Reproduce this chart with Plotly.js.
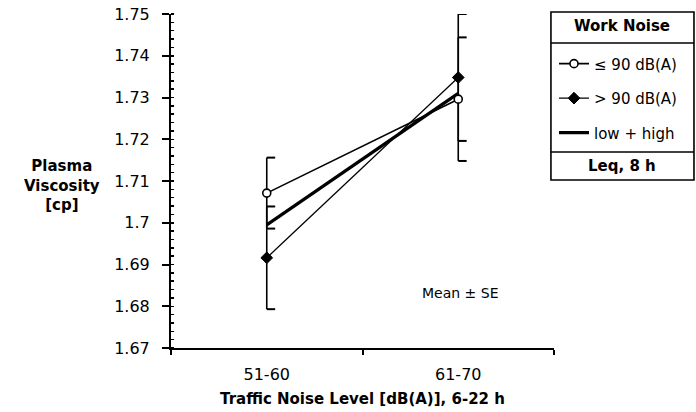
<!DOCTYPE html>
<html>
<head>
<meta charset="utf-8">
<script src="https://cdn.plot.ly/plotly-3.0.1.min.js"></script>
<style>html,body{margin:0;padding:0;background:#fff;}#chart{width:696px;height:412px;}</style>
</head>
<body>
<div id="chart"></div>
<script>
// ---- data ----
var categories = ["51-60", "61-70"];
var lowMean  = [1.7071, 1.7296];   // work noise <= 90 dB(A)
var lowSE    = [0.0085, 0.0148];
var highMean = [1.6916, 1.7348];   // work noise > 90 dB(A)
var highSE   = [0.0123, 0.0152];
var allMean  = [1.6995, 1.7310];   // low + high
var seriesNames = ["\u2264 90 dB(A)", "> 90 dB(A)", "low + high"];
var yTickVals = [1.67, 1.68, 1.69, 1.70, 1.71, 1.72, 1.73, 1.74, 1.75];

// ---- style constants ----
var capOffset = 0.022;   // half the bracket cap length, in x-axis units
var FONT = "DejaVu Sans, sans-serif";
var idx = categories.map(function (c, i) { return i; });

function capsFor(mean, se) {
  var xs = [], ys = [];
  mean.forEach(function (m, i) {
    xs.push(i + capOffset, i + capOffset);
    ys.push(m + se[i], m - se[i]);
  });
  return { x: xs, y: ys };
}
var lowCaps = capsFor(lowMean, lowSE);
var highCaps = capsFor(highMean, highSE);

var traces = [
  {
    x: idx, y: lowMean, type: "scatter", mode: "markers", showlegend: false, hoverinfo: "skip",
    marker: { size: 1, color: "rgba(0,0,0,0)" },
    error_y: { type: "data", array: lowSE, visible: true, color: "#000", thickness: 1.6, width: 0 }
  },
  {
    x: idx, y: highMean, type: "scatter", mode: "markers", showlegend: false, hoverinfo: "skip",
    marker: { size: 1, color: "rgba(0,0,0,0)" },
    error_y: { type: "data", array: highSE, visible: true, color: "#000", thickness: 1.6, width: 0 }
  },
  { // right-pointing bracket caps
    x: lowCaps.x.concat(highCaps.x), y: lowCaps.y.concat(highCaps.y),
    type: "scatter", mode: "markers", showlegend: false, hoverinfo: "skip",
    marker: { symbol: "line-ew", size: 6, line: { width: 2, color: "#000" } }
  },
  {
    x: idx, y: allMean, name: seriesNames[2], type: "scatter", mode: "lines",
    legendgroup: "c", legendrank: 3,
    line: { color: "#000", width: 3.2 }
  },
  {
    x: idx, y: lowMean, name: seriesNames[0], type: "scatter", mode: "lines+markers",
    legendgroup: "a", legendrank: 1,
    line: { color: "#000", width: 1.6 },
    marker: { symbol: "circle", size: 8, color: "#fff", line: { color: "#000", width: 1.6 } }
  },
  {
    x: idx, y: highMean, name: seriesNames[1], type: "scatter", mode: "lines+markers",
    legendgroup: "b", legendrank: 2,
    line: { color: "#000", width: 1.3 },
    marker: { symbol: "diamond", size: 9, color: "#000", line: { color: "#000", width: 1 } }
  }
];

var boxL = 0.992, boxR = 1.3655, boxT = 1.006, boxB = 0.503;
var layout = {
  width: 696, height: 412,
  margin: { l: 171, r: 142, t: 14, b: 64 },
  paper_bgcolor: "#fff", plot_bgcolor: "#fff",
  font: { family: FONT, size: 14, color: "#000" },
  showlegend: true,
  legend: {
    x: 1.0, xanchor: "left", y: 0.9, yanchor: "top",
    bgcolor: "rgba(0,0,0,0)", borderwidth: 0,
    traceorder: "grouped", tracegroupgap: 12,
    font: { family: FONT, size: 15, color: "#000" }, itemwidth: 30
  },
  xaxis: {
    range: [-0.5, 1.5], tickmode: "array", tickvals: idx, ticktext: categories,
    ticks: "", showgrid: false, zeroline: false,
    showline: true, linecolor: "#000", linewidth: 2,
    ticklabelstandoff: 11,
    tickfont: { family: FONT, size: 16 },
    minor: { tickmode: "linear", tick0: -0.5, dtick: 1, ticks: "outside", ticklen: 5, tickwidth: 2, tickcolor: "#000", showgrid: false },
    title: { text: "<b>Traffic Noise Level [dB(A)], 6-22 h</b>", font: { family: FONT, size: 15 }, standoff: 10 }
  },
  yaxis: {
    range: [1.67, 1.75], tickmode: "array", tickvals: yTickVals, tickformat: "~g",
    ticks: "outside", ticklen: 7, tickwidth: 2, tickcolor: "#000",
    showgrid: false, zeroline: false,
    showline: true, linecolor: "#000", linewidth: 2,
    ticklabelstandoff: 9,
    tickfont: { family: FONT, size: 16 },
    minor: { tickmode: "linear", tick0: 1.67, dtick: 0.002, ticks: "inside", ticklen: 3, tickwidth: 1.5, tickcolor: "#000", showgrid: false }
  },
  shapes: [
    { type: "rect", xref: "paper", yref: "paper", x0: boxL, x1: boxR, y0: boxB, y1: boxT, line: { color: "#000", width: 1.6 } },
    { type: "line", xref: "paper", yref: "paper", x0: boxL, x1: boxR, y0: 0.9132, y1: 0.9132, line: { color: "#000", width: 1.6 } },
    { type: "line", xref: "paper", yref: "paper", x0: boxL, x1: boxR, y0: 0.5868, y1: 0.5868, line: { color: "#000", width: 1.6 } }
  ],
  annotations: [
    { xref: "paper", yref: "paper", x: 1.1788, y: 0.963, text: "<b>Work Noise</b>", showarrow: false,
      xanchor: "center", yanchor: "middle", font: { family: FONT, size: 15 } },
    { xref: "paper", yref: "paper", x: 1.1788, y: 0.546, text: "<b>Leq, 8 h</b>", showarrow: false,
      xanchor: "center", yanchor: "middle", font: { family: FONT, size: 15 } },
    { xref: "paper", yref: "paper", x: -0.285, y: 0.488, text: "<b>Plasma<br>Viscosity<br>[cp]</b>", showarrow: false,
      xanchor: "center", yanchor: "middle", align: "center", font: { family: FONT, size: 15 } },
    { xref: "x", yref: "y", x: 1.01, y: 1.6832, text: "Mean \u00b1 SE", showarrow: false,
      xanchor: "center", yanchor: "middle", font: { family: FONT, size: 14 } }
  ]
};

Plotly.newPlot("chart", traces, layout, { displayModeBar: false, staticPlot: true });
</script>
</body>
</html>
